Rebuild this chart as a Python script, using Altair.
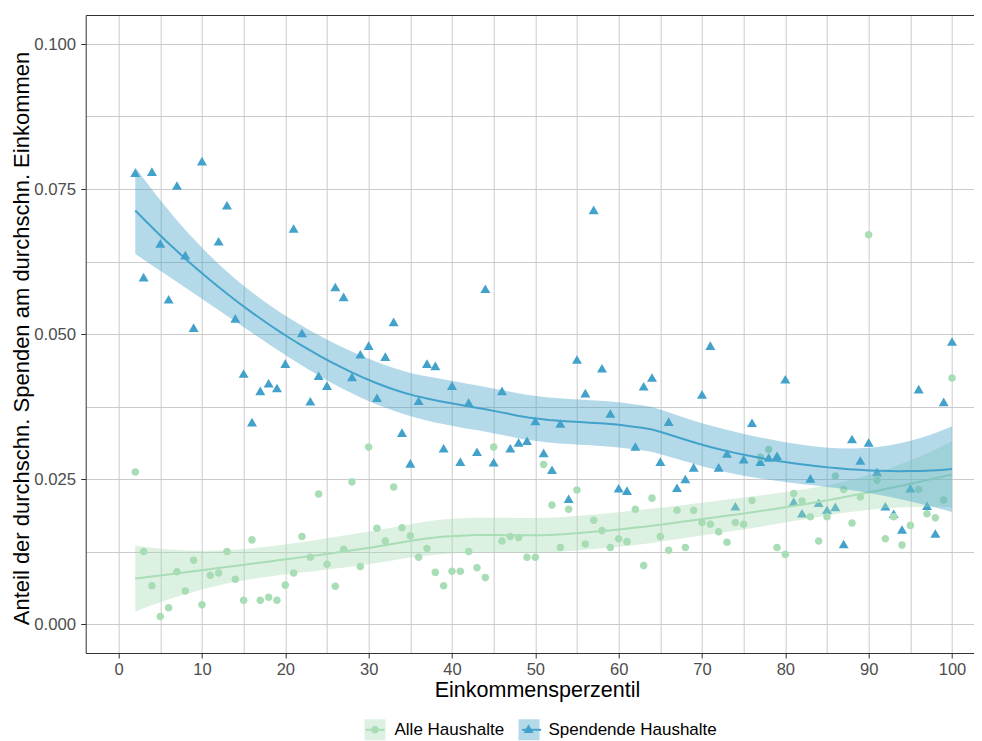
import numpy as np
import pandas as pd
import altair as alt

# ---------------- data ----------------
GROUPS = ["Alle Haushalte", "Spendende Haushalte"]
COLORS = ["#A8DDB5", "#43A2CA"]

spend_x = [2, 3, 4, 5, 6, 7, 8, 9, 10, 12, 13, 14, 15, 16, 17, 18, 19, 20,
           21, 22, 23, 24, 25, 26, 27, 28, 29, 30, 31, 32, 33, 34, 35, 36,
           37, 38, 39, 40, 41, 42, 43, 44, 45, 46, 47, 48, 49, 50, 51, 52,
           53, 54, 55, 56, 57, 58, 59, 60, 61, 62, 63, 64, 65, 66, 67, 68,
           69, 70, 71, 72, 73, 74, 75, 76, 77, 78, 79, 80, 81, 82, 83, 84,
           85, 86, 87, 88, 89, 90, 91, 92, 93, 94, 95, 96, 97, 98, 99, 100]
spend_y = [0.0776, 0.0596, 0.0778, 0.0654, 0.0558, 0.0754, 0.0634, 0.0509,
           0.0796, 0.0658, 0.0720, 0.0525, 0.0430, 0.0346, 0.0400, 0.0413,
           0.0405, 0.0447, 0.0680, 0.0500, 0.0382, 0.0426, 0.0409, 0.0579,
           0.0562, 0.0424, 0.0463, 0.0478, 0.0388, 0.0459, 0.0519, 0.0328,
           0.0275, 0.0383, 0.0447, 0.0443, 0.0301, 0.0409, 0.0278, 0.0380,
           0.0295, 0.0576, 0.0277, 0.0400, 0.0301, 0.0311, 0.0314, 0.0348,
           0.0293, 0.0264, 0.0344, 0.0214, 0.0454, 0.0396, 0.0712, 0.0439,
           0.0361, 0.0232, 0.0228, 0.0304, 0.0408, 0.0423, 0.0278, 0.0347,
           0.0233, 0.0248, 0.0268, 0.0394, 0.0478, 0.0268, 0.0292, 0.0201,
           0.0282, 0.0345, 0.0278, 0.0285, 0.0288, 0.0420, 0.0209, 0.0189,
           0.0249, 0.0207, 0.0195, 0.0200, 0.0136, 0.0317, 0.0280, 0.0311,
           0.0260, 0.0201, 0.0188, 0.0161, 0.0232, 0.0403, 0.0202, 0.0154,
           0.0381, 0.0485]

alle_x = list(range(2, 101))
alle_y = [0.0262, 0.0125, 0.0066, 0.0013, 0.0028, 0.0090, 0.0057, 0.0110,
          0.0033, 0.0084, 0.0088, 0.0125, 0.0077, 0.0041, 0.0145, 0.0041,
          0.0046, 0.0041, 0.0067, 0.0088, 0.0151, 0.0115, 0.0224, 0.0103,
          0.0065, 0.0129, 0.0245, 0.0099, 0.0305, 0.0165, 0.0143, 0.0236,
          0.0166, 0.0152, 0.0115, 0.0130, 0.0089, 0.0066, 0.0091, 0.0091,
          0.0125, 0.0097, 0.0080, 0.0305, 0.0143, 0.0151, 0.0149, 0.0115,
          0.0115, 0.0275, 0.0205, 0.0132, 0.0198, 0.0231, 0.0138, 0.0179,
          0.0161, 0.0132, 0.0147, 0.0142, 0.0198, 0.0101, 0.0217, 0.0151,
          0.0127, 0.0196, 0.0132, 0.0196, 0.0175, 0.0172, 0.0159, 0.0141,
          0.0175, 0.0172, 0.0213, 0.0288, 0.0301, 0.0132, 0.0120, 0.0225,
          0.0212, 0.0185, 0.0143, 0.0185, 0.0255, 0.0232, 0.0174, 0.0219,
          0.0671, 0.0248, 0.0147, 0.0185, 0.0136, 0.0170, 0.0232, 0.0190,
          0.0183, 0.0214, 0.0424]

X_TITLE = "Einkommensperzentil"
Y_TITLE = "Anteil der durchschn. Spenden am durchschn. Einkommen"


# ---------------- loess smoother (span 0.75, degree 2) with 95% band ----------------
def loess_band(xv, yv, span=0.75, n_out=80):
    x = np.asarray(xv, float)
    y = np.asarray(yv, float)
    n = len(x)
    q = int(np.floor(n * span))

    def row(x0):
        d = np.abs(x - x0)
        h = np.sort(d)[q - 1] * 1.000001
        u = d / h
        w = np.where(u < 1, (1 - u ** 3) ** 3, 0.0)
        X = np.column_stack([np.ones(n), x - x0, (x - x0) ** 2])
        XtW = X.T * w
        return np.linalg.solve(XtW @ X, XtW)[0]

    L = np.array([row(v) for v in x])
    res = y - L @ y
    IL = np.eye(n) - L
    M = IL.T @ IL
    d1 = np.trace(M)
    d2 = np.trace(M @ M)
    s = np.sqrt(np.sum(res ** 2) / d1)
    df = d1 ** 2 / d2
    z = 1.959964
    t = (z + (z ** 3 + z) / (4 * df) + (5 * z ** 5 + 16 * z ** 3 + 3 * z) / (96 * df ** 2)
         + (3 * z ** 7 + 19 * z ** 5 + 17 * z ** 3 - 15 * z) / (384 * df ** 3))
    xs = np.linspace(x.min(), x.max(), n_out)
    Ls = np.array([row(v) for v in xs])
    fit = Ls @ y
    se = s * np.sqrt((Ls ** 2).sum(axis=1))
    return xs, fit, fit - t * se, fit + t * se


pts = pd.concat([
    pd.DataFrame({"Perzentil": spend_x, "Anteil": spend_y, "Gruppe": GROUPS[1]}),
    pd.DataFrame({"Perzentil": alle_x, "Anteil": alle_y, "Gruppe": GROUPS[0]}),
], ignore_index=True)

frames = []
for g, xv, yv in [(GROUPS[0], alle_x, alle_y), (GROUPS[1], spend_x, spend_y)]:
    xs, fit, lo, hi = loess_band(xv, yv)
    frames.append(pd.DataFrame({"Perzentil": xs, "fit": fit, "lo": lo, "hi": hi,
                                "Band": g, "Linie": g}))
smooth = pd.concat(frames, ignore_index=True)

# ---------------- styling ----------------
FONT = "Liberation Sans"
PAD_L = 77.7
W, H = 888.3, 638
X_DOM = [-3.95, -3.95 + W / 8.334]
Y_DOM = [-0.005, 0.105]
BORDER = "#333333"
GRID = "#CBCBCB"

# custom symbols in a -1..1 box (corner moves keep legend bounds equal)
CIRCLE = "M-1,-1M1,1M-0.36,0A0.36,0.36 0 1,0 0.36,0A0.36,0.36 0 1,0 -0.36,0Z"
TRIANGLE = "M-1,-1M1,1M0,-0.52L0.476,0.30L-0.476,0.30Z"
LINEKEY = "M-1,-1M1,1M-1,0L1,0"

xscale = alt.Scale(domain=X_DOM, nice=False, zero=False)
yscale = alt.Scale(domain=Y_DOM, nice=False, zero=False)

LEG_X, LEG_Y = 278.8, 704.3
LABEL_W = 109.6  # width of the first legend label at 17px
leg_common = dict(orient="none", legendX=LEG_X, legendY=LEG_Y, direction="horizontal",
                  title=None, labelFont=FONT, labelFontSize=17, labelColor="#000000",
                  labelOffset=9, padding=0, rowPadding=0, labelLimit=400)

band_legend = alt.Legend(symbolType="square", symbolSize=441, symbolStrokeWidth=0,
                         symbolOpacity=0.4, columnPadding=14, **leg_common)
point_legend = alt.Legend(symbolSize=441, symbolStrokeWidth=0, symbolOpacity=1,
                          labelExpr="''", columnPadding=14 + LABEL_W, **leg_common)
line_legend = alt.Legend(symbolType=LINEKEY, symbolSize=361, symbolStrokeWidth=2,
                         labelExpr="''", columnPadding=14 + LABEL_W, **leg_common)

x_bottom = alt.Axis(
    values=list(range(0, 101, 5)), format="d",
    labelExpr="datum.value % 10 == 0 ? datum.label : ''",
    tickOpacity={"condition": {"test": "datum.value % 10 != 0", "value": 0}, "value": 1},
    grid=True, gridColor=GRID, gridWidth=1,
    domainColor=BORDER, domainWidth=1, tickColor=BORDER, tickSize=5, tickWidth=1,
    labelPadding=3, labelFont=FONT, labelFontSize=16.5, labelColor="#4D4D4D",
    labelOverlap=False, labelFlush=False,
    title=X_TITLE, titleFont=FONT, titleFontSize=21.5, titleFontWeight="normal",
    titleColor="#000000", titleX=451.3, titleY=43.7, titleAlign="center",
    titleBaseline="alphabetic",
)
x_top = alt.Axis(orient="top", labels=False, ticks=False, grid=False, domain=True,
                 domainColor=BORDER, domainWidth=1, title=None)

MAJOR_TEST = "abs(datum.value*40 - round(datum.value*40)) < 0.001"
y_left = alt.Axis(
    values=[0, 0.0125, 0.025, 0.0375, 0.05, 0.0625, 0.075, 0.0875, 0.1],
    labelExpr=MAJOR_TEST + " ? format(datum.value, '.3f') : ''",
    tickOpacity={"condition": {"test": "abs(datum.value*40 - round(datum.value*40)) > 0.001",
                               "value": 0}, "value": 1},
    grid=True, gridColor=GRID, gridWidth=1,
    domainColor=BORDER, domainWidth=1, tickColor=BORDER, tickSize=5, tickWidth=1,
    labelPadding=5, labelFont=FONT, labelFontSize=16.8, labelColor="#4D4D4D",
    labelOverlap=False, labelFlush=False,
    title=Y_TITLE, titleFont=FONT, titleFontSize=22, titleFontWeight="normal",
    titleColor="#000000", titleAngle=270, titleX=-57.4, titleY=323,
    titleAlign="center", titleBaseline="alphabetic",
)

points = alt.Chart(pts).mark_point(filled=True, opacity=1, strokeWidth=0).encode(
    x=alt.X("Perzentil:Q", scale=xscale, axis=x_bottom),
    y=alt.Y("Anteil:Q", scale=yscale, axis=y_left),
    fill=alt.Fill("Gruppe:N", scale=alt.Scale(range=COLORS), legend=point_legend),
    shape=alt.Shape("Gruppe:N", scale=alt.Scale(range=[CIRCLE, TRIANGLE]), legend=point_legend),
    size=alt.value(441),
)


def band_layer(g, axis):
    return alt.Chart(smooth).transform_filter(alt.datum.Band == g).mark_area(opacity=0.4).encode(
        x=alt.X("Perzentil:Q", scale=xscale, axis=axis),
        y=alt.Y("lo:Q", scale=yscale, axis=None),
        y2="hi:Q",
        color=alt.Color("Band:N", scale=alt.Scale(range=COLORS), legend=band_legend),
    )


def line_layer(g):
    return alt.Chart(smooth).transform_filter(alt.datum.Linie == g).mark_line(strokeWidth=2).encode(
        x=alt.X("Perzentil:Q", scale=xscale, axis=None),
        y=alt.Y("fit:Q", scale=yscale, axis=None),
        stroke=alt.Stroke("Linie:N", scale=alt.Scale(range=COLORS), legend=line_legend),
    )


chart = alt.layer(
    points,
    band_layer(GROUPS[0], x_top),
    line_layer(GROUPS[0]),
    band_layer(GROUPS[1], None),
    line_layer(GROUPS[1]),
).resolve_axis(x="independent", y="independent").properties(
    width=W, height=H,
    autosize=alt.AutoSizeParams(type="none"),
    padding={"left": PAD_L, "top": 7, "right": 0, "bottom": 88},
    background="white",
).configure_view(stroke=None)

chart.save("out.html", embed_options={"renderer": "svg", "actions": False})
